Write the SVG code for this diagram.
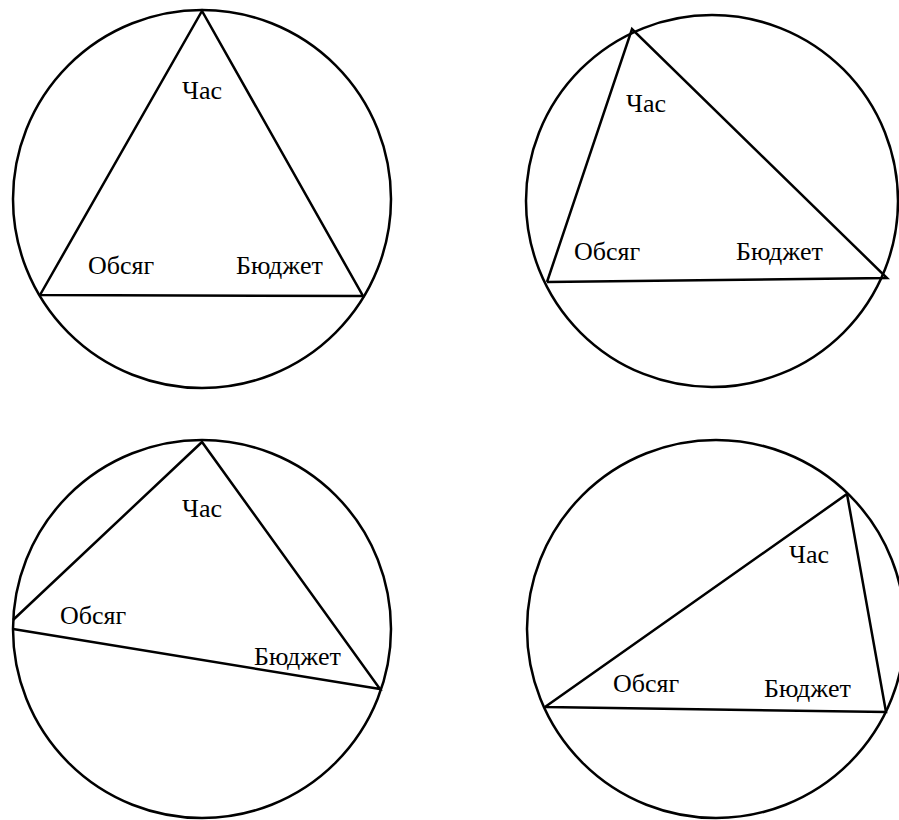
<svg xmlns="http://www.w3.org/2000/svg" width="899" height="820" viewBox="0 0 899 820">
<style>
.c{fill:none;stroke:#000;stroke-width:2.5}
.t{fill:none;stroke:#000;stroke-width:2.5;stroke-linejoin:miter}
.l{font-family:"Liberation Serif","Times New Roman",serif;font-size:26px;fill:#000}
</style>
<rect width="899" height="820" fill="#fff"/>
<g id="diagram1">
<circle class="c" cx="202" cy="199" r="189"/>
<polyline class="t" points="40,295 202,11 363,296 40,295"/>
<text class="l" x="182" y="99">Час</text>
<text class="l" x="88" y="274">Обсяг</text>
<text class="l" x="236" y="274">Бюджет</text>
</g>
<g id="diagram2">
<circle class="c" cx="712" cy="201" r="186"/>
<polyline class="t" points="547,282 632,29 887,278 547,282"/>
<text class="l" x="626" y="112">Час</text>
<text class="l" x="574" y="260">Обсяг</text>
<text class="l" x="736" y="260">Бюджет</text>
</g>
<g id="diagram3">
<circle class="c" cx="202" cy="629" r="189"/>
<polyline class="t" points="13,620 202,442 380,689 13,629"/>
<text class="l" x="60" y="624">Обсяг</text>
<text class="l" x="182" y="517">Час</text>
<text class="l" x="254" y="665">Бюджет</text>
</g>
<g id="diagram4">
<circle class="c" cx="716" cy="629" r="189"/>
<polyline class="t" points="545,707 847,494 886,712 545,707"/>
<text class="l" x="789" y="563">Час</text>
<text class="l" x="613" y="692">Обсяг</text>
<text class="l" x="764" y="697">Бюджет</text>
</g>
</svg>
